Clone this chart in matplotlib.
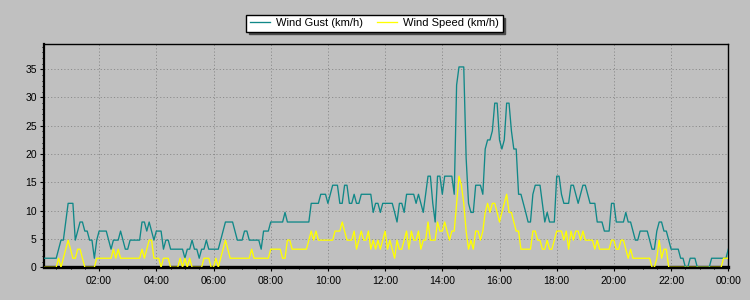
import numpy as np
import matplotlib
matplotlib.use('Agg')
from matplotlib import pyplot as plt
from matplotlib.ticker import MultipleLocator

# wind readings every 5 minutes, 00:05 .. 24:00 (one row per hour)
gust_kmh = [
    1.6, 1.6, 1.6, 1.6, 1.6, 1.6, 3.2, 4.8, 4.8, 8.0, 11.3, 11.3,
    11.3, 4.8, 6.4, 8.0, 8.0, 6.4, 6.4, 4.8, 4.8, 1.6, 4.8, 6.4,
    6.4, 6.4, 6.4, 4.8, 3.2, 4.8, 4.8, 4.8, 6.4, 4.8, 3.2, 3.2,
    4.8, 4.8, 4.8, 4.8, 4.8, 8.0, 8.0, 6.4, 8.0, 6.4, 4.8, 6.4,
    6.4, 6.4, 3.2, 4.8, 4.8, 3.2, 3.2, 3.2, 3.2, 3.2, 3.2, 1.6,
    3.2, 3.2, 4.8, 3.2, 3.2, 1.6, 3.2, 3.2, 4.8, 3.2, 3.2, 3.2,
    3.2, 3.2, 4.8, 6.4, 8.0, 8.0, 8.0, 8.0, 6.4, 4.8, 4.8, 4.8,
    6.4, 6.4, 4.8, 4.8, 4.8, 4.8, 4.8, 3.2, 6.4, 6.4, 6.4, 8.0,
    8.0, 8.0, 8.0, 8.0, 8.0, 9.7, 8.0, 8.0, 8.0, 8.0, 8.0, 8.0,
    8.0, 8.0, 8.0, 8.0, 11.3, 11.3, 11.3, 11.3, 12.9, 12.9, 12.9, 11.3,
    12.9, 14.5, 14.5, 14.5, 11.3, 11.3, 14.5, 14.5, 11.3, 11.3, 12.9, 11.3,
    11.3, 12.9, 12.9, 12.9, 12.9, 12.9, 9.7, 11.3, 11.3, 9.7, 11.3, 11.3,
    11.3, 11.3, 11.3, 9.7, 8.0, 11.3, 11.3, 9.7, 12.9, 12.9, 12.9, 12.9,
    11.3, 12.9, 11.3, 9.7, 12.9, 16.1, 16.1, 11.3, 8.0, 16.1, 16.1, 12.9,
    16.1, 16.1, 16.1, 16.1, 12.9, 32.2, 35.4, 35.4, 35.4, 19.3, 11.3, 9.7,
    9.7, 14.5, 14.5, 14.5, 12.9, 20.9, 22.5, 22.5, 24.1, 29.0, 29.0, 22.5,
    20.9, 22.5, 29.0, 29.0, 24.1, 20.9, 20.9, 12.9, 12.9, 11.3, 9.7, 8.0,
    8.0, 12.9, 14.5, 14.5, 14.5, 11.3, 8.0, 9.7, 8.0, 8.0, 8.0, 16.1,
    16.1, 12.9, 11.3, 11.3, 11.3, 14.5, 14.5, 12.9, 11.3, 12.9, 14.5, 14.5,
    12.9, 11.3, 11.3, 11.3, 8.0, 8.0, 8.0, 6.4, 6.4, 6.4, 11.3, 11.3,
    8.0, 8.0, 8.0, 8.0, 9.7, 8.0, 8.0, 6.4, 4.8, 4.8, 6.4, 6.4,
    6.4, 6.4, 4.8, 3.2, 3.2, 6.4, 8.0, 8.0, 6.4, 6.4, 4.8, 3.2,
    3.2, 3.2, 3.2, 1.6, 1.6, 0.0, 0.0, 1.6, 1.6, 1.6, 0.0, 0.0,
    0.0, 0.0, 0.0, 0.0, 1.6, 1.6, 1.6, 1.6, 1.6, 1.6, 1.6, 3.2,
]

speed_kmh = [
    0.0, 0.0, 0.0, 0.0, 0.0, 0.0, 1.6, 0.0, 1.6, 3.2, 4.8, 3.2,
    1.6, 1.6, 3.2, 3.2, 1.6, 0.0, 0.0, 0.0, 0.0, 0.0, 1.6, 1.6,
    1.6, 1.6, 1.6, 1.6, 1.6, 3.2, 1.6, 3.2, 1.6, 1.6, 1.6, 1.6,
    1.6, 1.6, 1.6, 1.6, 1.6, 3.2, 1.6, 3.2, 4.8, 4.8, 1.6, 1.6,
    1.6, 0.0, 1.6, 1.6, 1.6, 0.0, 0.0, 0.0, 0.0, 1.6, 0.0, 1.6,
    0.0, 1.6, 0.0, 0.0, 0.0, 0.0, 0.0, 1.6, 1.6, 1.6, 0.0, 0.0,
    1.6, 0.0, 1.6, 3.2, 4.8, 3.2, 1.6, 1.6, 1.6, 1.6, 1.6, 1.6,
    1.6, 1.6, 1.6, 3.2, 1.6, 1.6, 1.6, 1.6, 1.6, 1.6, 1.6, 3.2,
    3.2, 3.2, 3.2, 3.2, 1.6, 1.6, 4.8, 4.8, 3.2, 3.2, 3.2, 3.2,
    3.2, 3.2, 3.2, 4.8, 6.4, 4.8, 6.4, 4.8, 4.8, 4.8, 4.8, 4.8,
    4.8, 4.8, 6.4, 6.4, 6.4, 8.0, 6.4, 4.8, 4.8, 4.8, 6.4, 3.2,
    4.8, 6.4, 4.8, 4.8, 6.4, 3.2, 4.8, 3.2, 4.8, 3.2, 4.8, 6.4,
    3.2, 4.8, 3.2, 1.6, 4.8, 3.2, 3.2, 4.8, 6.4, 3.2, 6.4, 4.8,
    4.8, 6.4, 3.2, 4.8, 4.8, 8.0, 4.8, 4.8, 4.8, 8.0, 6.4, 6.4,
    8.0, 6.4, 4.8, 6.4, 6.4, 11.3, 16.1, 14.5, 11.3, 6.4, 3.2, 4.8,
    3.2, 6.4, 6.4, 4.8, 6.4, 9.7, 11.3, 9.7, 11.3, 11.3, 9.7, 8.0,
    9.7, 11.3, 12.9, 9.7, 9.7, 8.0, 6.4, 6.4, 3.2, 3.2, 3.2, 3.2,
    3.2, 6.4, 6.4, 4.8, 4.8, 3.2, 3.2, 4.8, 3.2, 3.2, 4.8, 6.4,
    6.4, 6.4, 4.8, 6.4, 3.2, 6.4, 4.8, 6.4, 6.4, 4.8, 6.4, 4.8,
    4.8, 4.8, 4.8, 3.2, 4.8, 3.2, 3.2, 3.2, 3.2, 3.2, 4.8, 4.8,
    3.2, 3.2, 4.8, 4.8, 3.2, 1.6, 3.2, 1.6, 1.6, 1.6, 1.6, 1.6,
    1.6, 1.6, 1.6, 0.0, 0.0, 1.6, 4.8, 1.6, 3.2, 3.2, 0.0, 0.0,
    0.0, 0.0, 0.0, 0.0, 0.0, 0.0, 0.0, 0.0, 0.0, 0.0, 0.0, 0.0,
    0.0, 0.0, 0.0, 0.0, 0.0, 0.0, 0.0, 0.0, 0.0, 1.6, 1.6, 1.6,
]

step_min = 5
hours = np.arange(1, len(gust_kmh) + 1) * step_min / 60.0

y_ticks = [0, 5, 10, 15, 20, 25, 30, 35]
x_ticks = [2, 4, 6, 8, 10, 12, 14, 16, 18, 20, 22, 24]
x_labels = ['02:00', '04:00', '06:00', '08:00', '10:00', '12:00',
            '14:00', '16:00', '18:00', '20:00', '22:00', '00:00']

plt.rcParams['font.family'] = ['Liberation Sans', 'DejaVu Sans']
bg = '#c0c0c0'

fig = plt.figure(figsize=(7.5, 3), dpi=100, facecolor=bg)
ax = fig.add_axes([44.3 / 750, 1 - 267.3 / 300, 684 / 750, 223.3 / 300])
ax.set_facecolor(bg)

ax.plot(hours, gust_kmh, color='#108888', lw=0.95, label='Wind Gust (km/h)', zorder=3)
ax.plot(hours, speed_kmh, color='#ffff00', lw=0.95, label='Wind Speed (km/h)', zorder=4)

ax.set_xlim(hours[0], hours[-1])
ax.set_ylim(0, 39.45)
ax.set_xticks(x_ticks)
ax.set_xticklabels(x_labels)
ax.set_yticks(y_ticks)
ax.xaxis.set_minor_locator(MultipleLocator(0.5))
ax.yaxis.set_minor_locator(MultipleLocator(1))

ax.grid(True, which='major', linestyle=(0, (1.2, 2.2)), color='#8c8c8c', lw=0.7, zorder=1)
ax.tick_params(which='major', direction='out', length=3, width=0.8,
               labelsize=7.5, colors='black')
ax.tick_params(which='minor', direction='out', length=1.5, width=0.7)
ax.tick_params(axis='y', pad=2.5)
ax.tick_params(axis='x', pad=3)

for side in ['top', 'right']:
    ax.spines[side].set_linewidth(1.0)
ax.spines['left'].set_linewidth(1.6)
ax.spines['bottom'].set_linewidth(2.4)

leg = fig.legend(loc='center', bbox_to_anchor=(0.4993, 1 - 23.3 / 300), ncol=2,
                 fontsize=8, frameon=True, fancybox=False, edgecolor='black',
                 facecolor='white', framealpha=1,
                 shadow={'color': '#4a4a4a', 'alpha': 1.0},
                 handlelength=1.8, handletextpad=0.6, columnspacing=1.2,
                 borderpad=0.3, borderaxespad=0)
leg.get_frame().set_linewidth(1.0)

fig.savefig('out.png', dpi=100, facecolor=bg)
